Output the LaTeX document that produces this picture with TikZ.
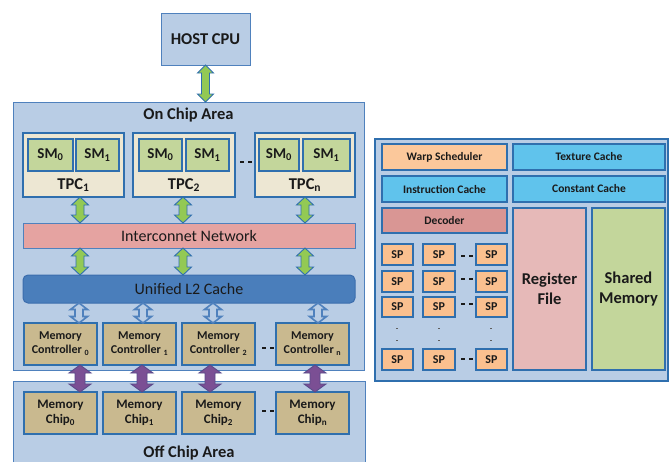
\documentclass[tikz,border=0pt]{standalone}
\usepackage{fontspec}
\setmainfont{Carlito}
\usetikzlibrary{calc}
\definecolor{areaF}{HTML}{B9CDE5}
\definecolor{areaB}{HTML}{4F81BD}
\definecolor{blueB}{HTML}{2F6FAE}
\definecolor{tpcF}{HTML}{EDE7D3}
\definecolor{smF}{HTML}{C3D69B}
\definecolor{netF}{HTML}{E5A3A1}
\definecolor{l2F}{HTML}{4A7EBB}
\definecolor{l2B}{HTML}{3B6DAD}
\definecolor{mcF}{HTML}{C9B98F}
\definecolor{purpF}{HTML}{7B4F94}
\definecolor{purpB}{HTML}{5A4A8A}
\definecolor{greenF}{HTML}{93C954}
\definecolor{warpF}{HTML}{FBC89B}
\definecolor{cacheF}{HTML}{60C3EC}
\definecolor{decF}{HTML}{D99694}
\definecolor{regF}{HTML}{E6B9B8}
\definecolor{spF}{HTML}{FAC08F}
\definecolor{txt}{HTML}{1A1A1A}
\newcommand{\bx}[7]{\node[#2, minimum width={(#5-#3)*1pt}, minimum height={(#6-#4)*1pt}] (#1) at ({(#3+#5)/2},{(#4+#6)/2}) {#7};}
\newcommand{\dblarr}[6]{\filldraw[#1] let \p1=(#2), \p2=(#3) in
  (\x1,\y1) -- (\x1+#5,\y1-#6) -- (\x1+#4,\y1-#6) -- (\x1+#4,\y2+#6) -- (\x1+#5,\y2+#6)
  -- (\x1,\y2) -- (\x1-#5,\y2+#6) -- (\x1-#4,\y2+#6) -- (\x1-#4,\y1-#6) -- (\x1-#5,\y1-#6) -- cycle;}
\tikzset{
  every node/.style={inner sep=0pt, outer sep=0pt, text=txt},
  areabox/.style={draw=areaB, fill=areaF, line width=1pt},
  tpcbox/.style={draw=blueB, fill=tpcF, line width=1.4pt},
  smbox/.style={draw=blueB, fill=smF, line width=1.4pt, font=\bfseries\fontsize{15}{17}\selectfont},
  netbox/.style={draw=areaB, fill=netF, line width=1pt, font=\fontsize{16}{18}\selectfont},
  l2box/.style={draw=l2B, fill=l2F, line width=1pt, rounded corners=5pt, font=\fontsize{16}{18}\selectfont},
  mcbox/.style={draw=blueB, fill=mcF, line width=1.4pt, align=center, font=\bfseries\fontsize{12}{14}\selectfont},
  chipbox/.style={draw=blueB, fill=mcF, line width=1.4pt, align=center, font=\bfseries\fontsize{13}{15}\selectfont},
  rbox/.style={draw=blueB, line width=1.8pt, font=\bfseries\fontsize{11.5}{13}\selectfont},
  bigbox/.style={draw=blueB, line width=1.8pt, align=center, font=\bfseries\fontsize{16.5}{20}\selectfont},
  spbox/.style={draw=blueB, fill=spF, line width=1.8pt, font=\bfseries\fontsize{12}{13}\selectfont},
  title/.style={font=\bfseries\fontsize{16.5}{18}\selectfont},
  garrow/.style={fill=greenF, draw=blueB, line width=0.9pt},
  parrow/.style={fill=purpF, draw=purpB, line width=0.9pt},
  harrow/.style={fill=areaF, draw=areaB, line width=1.6pt},
  gapdash/.style={draw=txt, line width=1.3pt, dash pattern=on 4pt off 4pt},
  vdot/.style={fill=txt!70},
}
\begin{document}
\begin{tikzpicture}[x=1pt,y=-1pt]
\clip (0,0) rectangle (670,461);
\fill[white] (0,0) rectangle (670,461);
% host
\bx{host}{areabox, title}{161}{13}{250}{65}{HOST CPU}
% areas
\bx{onchip}{areabox}{13}{102}{364}{370}{}
\node[title] (onlbl) at (188.5,115) {On Chip Area};
\bx{offchip}{areabox}{13}{381}{365}{480}{}
\node[title] (offlbl) at (189,453) {Off Chip Area};
% TPCs
\bx{tpc1}{tpcbox}{23}{133}{124}{197}{}
\bx{tpc2}{tpcbox}{133}{133}{235}{197}{}
\bx{tpcn}{tpcbox}{255}{133}{355}{197}{}
\bx{sma0}{smbox}{28}{139}{73}{171}{SM\textsubscript{0}}
\bx{sma1}{smbox}{76}{139}{119}{171}{SM\textsubscript{1}}
\bx{smb0}{smbox}{139}{139}{182}{171}{SM\textsubscript{0}}
\bx{smb1}{smbox}{186}{139}{229}{171}{SM\textsubscript{1}}
\bx{smn0}{smbox}{259}{139}{299}{171}{SM\textsubscript{0}}
\bx{smn1}{smbox}{303}{139}{350}{171}{SM\textsubscript{1}}
\node[title] (tpc1l) at (73.5,185) {TPC\textsubscript{1}};
\node[title] (tpc2l) at (184,185) {TPC\textsubscript{2}};
\node[title] (tpcnl) at (305,185) {TPC\textsubscript{n}};
\draw[gapdash] (240,162) -- (252,162);
% network and L2
\bx{net}{netbox}{23}{223}{355}{248}{Interconnet Network}
\bx{l2}{l2box}{23}{275}{355}{303}{Unified L2 Cache}
% memory controllers
\bx{mc0}{mcbox}{24}{323}{97}{365}{Memory\\Controller \textsubscript{0}}
\bx{mc1}{mcbox}{103}{323}{176}{365}{Memory\\Controller \textsubscript{1}}
\bx{mc2}{mcbox}{182}{323}{255}{365}{Memory\\Controller \textsubscript{2}}
\bx{mcn}{mcbox}{276}{323}{349}{365}{Memory\\Controller \textsubscript{n}}
\draw[gapdash] (262,348) -- (274,348);
% memory chips
\bx{ch0}{chipbox}{24}{392}{97}{434}{Memory\\Chip\textsubscript{0}}
\bx{ch1}{chipbox}{103}{392}{176}{434}{Memory\\Chip\textsubscript{1}}
\bx{ch2}{chipbox}{182}{392}{255}{434}{Memory\\Chip\textsubscript{2}}
\bx{chn}{chipbox}{276}{392}{349}{434}{Memory\\Chip\textsubscript{n}}
\draw[gapdash] (262,411) -- (274,411);
% arrows
\coordinate (ga) at (80,0);
\coordinate (gb) at (183,0);
\coordinate (gc) at (305,0);
\coordinate (h0) at (79,0);
\coordinate (h1) at (143,0);
\coordinate (h2) at (213,0);
\coordinate (hn) at (318,0);
\coordinate (p0) at (80,0);
\coordinate (p1) at (142,0);
\coordinate (p2) at (210,0);
\coordinate (pn) at (315,0);
\dblarr{garrow}{host.south}{onchip.north}{4pt}{8pt}{8pt}
\dblarr{garrow}{tpc1.south -| ga}{net.north -| ga}{4pt}{8.5pt}{8pt}
\dblarr{garrow}{tpc2.south -| gb}{net.north -| gb}{4pt}{8.5pt}{8pt}
\dblarr{garrow}{tpcn.south -| gc}{net.north -| gc}{4pt}{8.5pt}{8pt}
\dblarr{garrow}{net.south -| ga}{l2.north -| ga}{4pt}{8.5pt}{8pt}
\dblarr{garrow}{net.south -| gb}{l2.north -| gb}{4pt}{8.5pt}{8pt}
\dblarr{garrow}{net.south -| gc}{l2.north -| gc}{4pt}{8.5pt}{8pt}
\dblarr{harrow}{l2.south -| h0}{mc0.north -| h0}{4pt}{8.5pt}{6.5pt}
\dblarr{harrow}{l2.south -| h1}{mc1.north -| h1}{4pt}{8.5pt}{6.5pt}
\dblarr{harrow}{l2.south -| h2}{mc2.north -| h2}{4pt}{8.5pt}{6.5pt}
\dblarr{harrow}{l2.south -| hn}{mcn.north -| hn}{4pt}{8.5pt}{6.5pt}
\dblarr{parrow}{mc0.south -| p0}{ch0.north -| p0}{5pt}{11pt}{8pt}
\dblarr{parrow}{mc1.south -| p1}{ch1.north -| p1}{5pt}{11pt}{8pt}
\dblarr{parrow}{mc2.south -| p2}{ch2.north -| p2}{5pt}{11pt}{8pt}
\dblarr{parrow}{mcn.south -| pn}{chn.north -| pn}{5pt}{11pt}{8pt}
% right panel
\bx{sm}{draw=blueB, fill=areaF, line width=1.4pt}{375}{139}{668}{381}{}
\bx{warp}{rbox, fill=warpF}{382}{144}{507}{170}{Warp Scheduler}
\bx{tex}{rbox, fill=cacheF}{513}{144}{665}{170}{Texture Cache}
\bx{icache}{rbox, fill=cacheF}{382}{176}{507}{202}{Instruction Cache}
\bx{ccache}{rbox, fill=cacheF}{513}{176}{665}{202}{Constant Cache}
\bx{dec}{rbox, fill=decF}{382}{208}{507}{233}{Decoder}
\bx{reg}{bigbox, fill=regF}{513}{208}{586}{370}{Register\\File}
\bx{shm}{bigbox, fill=smF}{592}{208}{665}{370}{Shared\\Memory}
% SP grid
\bx{sp11}{spbox}{382}{244}{413}{265}{SP}
\bx{sp12}{spbox}{423}{244}{455}{265}{SP}
\bx{sp13}{spbox}{476}{244}{507}{265}{SP}
\bx{sp21}{spbox}{382}{271}{413}{292}{SP}
\bx{sp22}{spbox}{423}{271}{455}{292}{SP}
\bx{sp23}{spbox}{476}{271}{507}{292}{SP}
\bx{sp31}{spbox}{382}{297}{413}{317}{SP}
\bx{sp32}{spbox}{423}{297}{455}{317}{SP}
\bx{sp33}{spbox}{476}{297}{507}{317}{SP}
\bx{sp41}{spbox}{382}{349}{413}{370}{SP}
\bx{sp42}{spbox}{423}{349}{455}{370}{SP}
\bx{sp43}{spbox}{476}{349}{507}{370}{SP}
\draw[gapdash] (461,256) -- (473,256);
\draw[gapdash] (461,279) -- (473,279);
\draw[gapdash] (461,304) -- (473,304);
\draw[gapdash] (461,359) -- (473,359);
\foreach \x in {397,439,491}{
  \fill[vdot] (\x-1,327.5) rectangle (\x+1,329);
  \fill[vdot] (\x-1,339.5) rectangle (\x+1,341);
}
\end{tikzpicture}
\end{document}
